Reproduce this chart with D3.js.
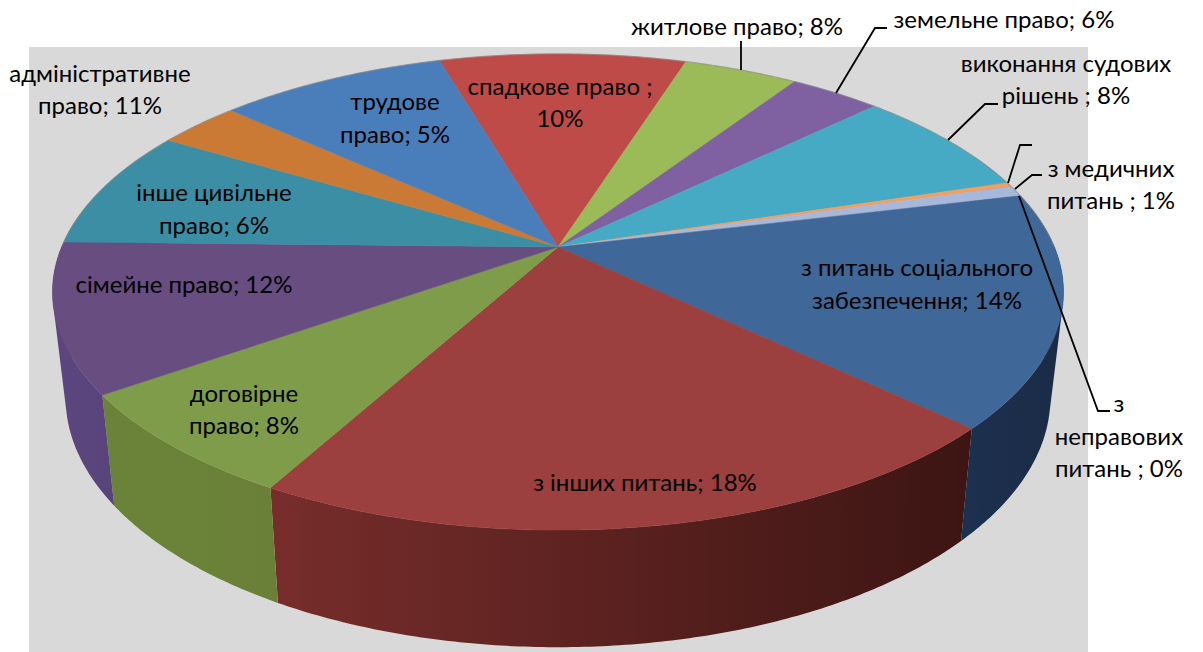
<!DOCTYPE html>
<html><head><meta charset="utf-8">
<script src="https://cdn.jsdelivr.net/npm/d3@7"></script>
<style>html,body{margin:0;padding:0;background:#fff}svg{display:block}</style>
</head><body><svg id="c" width="1203" height="652"></svg>
<script>
// Slice shares (clockwise, starting at "спадкове право")
const categories = ["спадкове право","житлове право","земельне право","виконання судових рішень","(без підпису)","з медичних питань","з неправових питань","з питань соціального забезпечення","з інших питань","договірне право","сімейне право","інше цивільне право","адміністративне право","трудове право"];
const shares = [9.47,4.39,3.5,7.42,0.31,0.72,0,15.83,20.94,7.22,10.1,8.15,3.19,8.75];
const backColors  = ["#be4b48","#9bbb59","#7f60a0","#46aac4","#f0a060","#a8b8da","#3f6797","#3f6797","#9b3f3f","#7f9c4a","#674d80","#3c8ea5","#ca7a35","#4a7ebb"];
const sideLeft    = ["#7a2e2c","#6b8438","#553d72","#2d7083","#a66a2b","#6f7d9b","#1b2d48","#1c3050","#772d2b","#6a8339","#5c4680","#2d7083","#a66a2b","#2c4a70"];
const sideRight   = ["#7a2e2c","#6b8438","#553d72","#2d7083","#a66a2b","#6f7d9b","#1b2d48","#1a2b45","#3c1513","#6a8038","#58447a","#2d7083","#a66a2b","#2c4a70"];
const labelLines = [
  ["спадкове право ;","10%"],["житлове право; 8%"],["земельне право; 6%"],["виконання судових","рішень ; 8%"],
  [],["з медичних","питань ; 1%"],["з","неправових","питань ; 0%"],["з питань соціального","забезпечення; 14%"],
  ["з інших питань; 18%"],["договірне","право; 8%"],["сімейне право; 12%"],["інше цивільне","право; 6%"],
  ["адміністративне","право; 11%"],["трудове","право; 5%"]];
const labelCenterX = [560,737,1004,1066,0,1111,1119,917,645,244,184,214,100,395];
const labelBaselines = [[95,127],[35],[28],[72,104],[],[177,209],[412,445,477],[276,309],[491],[402,434],[293],[201,234],[82,114],[110,143]];
const leaders = [
  [[741,70],[741,41]],
  [[836,93],[875,28],[887,28]],
  [[948,140],[985,104],[998,104]],
  [[1008,183],[1020,145],[1032,145]],
  [[1015,189],[1032,175],[1042,175]],
  [[1019,196],[1098,411],[1110,411]]];
const startDeg = 343.6;

const svg = d3.select("#c");
const defs = svg.append("defs");
svg.append("rect").attr("x",29).attr("y",47).attr("width",1059).attr("height",605).attr("fill","#d9d9d9");

// Projection of the pie's disc
const cx=558, cy=247, A=496.4, B=229.6, k=0.189;
const topPt = t => { const w=1-k*Math.sin(t); return [cx+A*Math.cos(t)/w, cy+B*Math.sin(t)/w]; };
const botPt = t => { const p=topPt(t); return [cx+0.974*(p[0]-cx), 350.5+1.048*(p[1]-cy)]; };
const line = d3.line();

const arcs = d3.pie().sort(null).value(d=>d)
  .startAngle(startDeg*Math.PI/180).endAngle((startDeg+360)*Math.PI/180)(shares);
const toTheta = a => a-Math.PI/2;
const TAU = 2*Math.PI;
const samples = (a0,a1) => { const n=Math.max(2,Math.ceil((a1-a0)/0.01)); return d3.range(n+1).map(i=>a0+(a1-a0)*i/n); };

// Side wall: visible between -25 and 205 degrees of theta
const vis0=-25*Math.PI/180, vis1=205*Math.PI/180;
const sideG = svg.append("g");
arcs.forEach((d,i)=>{
  let t0=toTheta(d.startAngle), t1=toTheta(d.endAngle);
  while(t0>vis1){t0-=TAU;t1-=TAU;}
  while(t1<vis0){t0+=TAU;t1+=TAU;}
  const a=Math.max(t0,vis0), b=Math.min(t1,vis1);
  if(b<=a) return;
  const id="sg"+i;
  const g=defs.append("linearGradient").attr("id",id);
  g.append("stop").attr("offset",0).attr("stop-color",sideLeft[i]);
  g.append("stop").attr("offset",1).attr("stop-color",sideRight[i]);
  const ts=samples(a,b);
  // every facet as its convex hull, so the wall also fills the tangent silhouette
  const dPath=d3.pairs(ts).map(([u,v])=>line(d3.polygonHull([topPt(u),topPt(v),botPt(v),botPt(u)]))+"Z").join("");
  sideG.append("path").attr("d",dPath).attr("fill",`url(#${id})`);
});

// Top face
const topG = svg.append("g");
arcs.forEach((d,i)=>{
  if(d.endAngle-d.startAngle<=0) return;
  const ts=samples(toTheta(d.startAngle),toTheta(d.endAngle));
  const pts=[[cx,cy]].concat(ts.map(topPt));
  topG.append("path").attr("d",line(pts)+"Z").attr("fill",backColors[i])
    .attr("stroke",backColors[i]).attr("stroke-width",0.5).attr("stroke-linejoin","round");
});
// soft rim on the back edge
topG.append("path").attr("d",line(samples(Math.PI,TAU).map(topPt)))
  .attr("fill","none").attr("stroke","#8a8a8a").attr("stroke-opacity",0.55).attr("stroke-width",1.2);

// Leader lines
svg.append("g").selectAll("path").data(leaders).join("path")
  .attr("d",d=>line(d)).attr("fill","none").attr("stroke","#000").attr("stroke-width",1.8);

// Labels
labelLines.forEach((ls,i)=>{
  ls.forEach((s,j)=>{
    svg.append("text").attr("x",labelCenterX[i]).attr("y",labelBaselines[i][j])
      .attr("text-anchor","middle").attr("font-family","Lato, 'Open Sans', sans-serif")
      .attr("font-size",24).attr("fill","#000").text(s);
  });
});
</script></body></html>
